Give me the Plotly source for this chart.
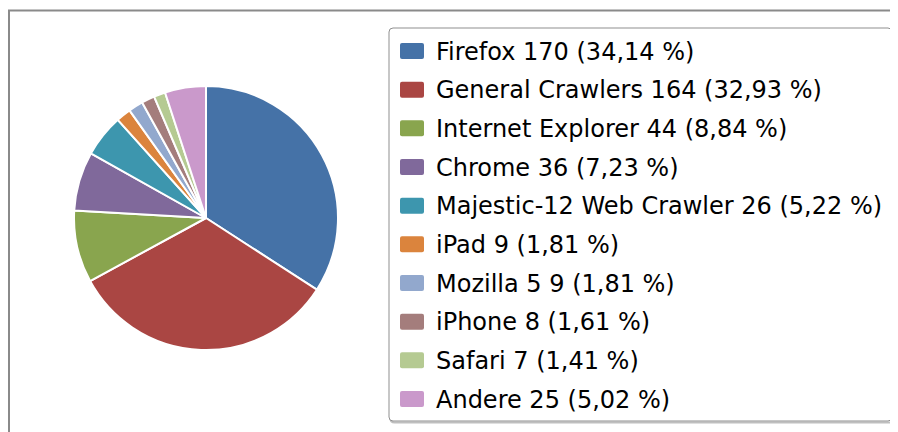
import plotly.graph_objects as go

# page offset of the plot inside the browser window (body margin)
OX, OY = 8, 8
W, H = 898 - OX, 432 - OY

labels = ["Firefox", "General Crawlers", "Internet Explorer", "Chrome",
          "Majestic-12 Web Crawler", "iPad", "Mozilla 5", "iPhone", "Safari", "Andere"]
values = [170, 164, 44, 36, 26, 9, 9, 8, 7, 25]
colors = ["#4572A7", "#AA4643", "#89A54E", "#80699B", "#3D96AE",
          "#DB843D", "#92A8CD", "#A47D7C", "#B5CA92", "#CA99CB"]

total = sum(values)


def px(x):
    return (x - OX) / W


def py(y):
    return 1 - (y - OY) / H


fig = go.Figure()

cx, cy, r = 206, 218, 132
fig.add_trace(go.Pie(
    labels=labels, values=values, sort=False, direction="clockwise", rotation=0,
    marker=dict(colors=colors, line=dict(color="#ffffff", width=2)),
    textinfo="none", hoverinfo="label+value+percent", showlegend=False,
    domain=dict(x=[px(cx - r), px(cx + r)], y=[py(cy + r), py(cy - r)]),
))

shapes = []
# outer frame (top and left edges visible)
shapes.append(dict(type="line", xref="paper", yref="paper", x0=px(8), x1=px(898 + 5),
                   y0=py(10.5), y1=py(10.5), line=dict(color="#8a8a8a", width=2)))
shapes.append(dict(type="line", xref="paper", yref="paper", x0=px(9), x1=px(9),
                   y0=py(10), y1=py(432 + 5), line=dict(color="#8a8a8a", width=2)))


def rounded(x0, y0, x1, y1, rad):
    return (f"M{px(x0 + rad)},{py(y0)} L{px(x1 - rad)},{py(y0)} "
            f"Q{px(x1)},{py(y0)} {px(x1)},{py(y0 + rad)} "
            f"L{px(x1)},{py(y1 - rad)} Q{px(x1)},{py(y1)} {px(x1 - rad)},{py(y1)} "
            f"L{px(x0 + rad)},{py(y1)} Q{px(x0)},{py(y1)} {px(x0)},{py(y1 - rad)} "
            f"L{px(x0)},{py(y0 + rad)} Q{px(x0)},{py(y0)} {px(x0 + rad)},{py(y0)} Z")


# legend box shadow + box
shapes.append(dict(type="path", xref="paper", yref="paper", path=rounded(390.5, 29.5, 893.5, 422.5, 4),
                   line=dict(color="rgba(0,0,0,0.25)", width=2), fillcolor="rgba(0,0,0,0)"))
shapes.append(dict(type="path", xref="paper", yref="paper", path=rounded(389, 28, 892, 421, 4),
                   line=dict(color="#8f8f8f", width=1), fillcolor="#ffffff"))

annotations = []
row0, step = 51, 38.67
for i, (lab, val, col) in enumerate(zip(labels, values, colors)):
    yc = row0 + i * step
    shapes.append(dict(type="path", xref="paper", yref="paper",
                       path=rounded(400, yc - 8, 424, yc + 8, 2),
                       line=dict(width=0), fillcolor=col))
    pct = f"{val / total * 100:.2f}".replace(".", ",")
    annotations.append(dict(
        xref="paper", yref="paper", x=px(434), y=py(yc + 0.5), xanchor="left", yanchor="middle",
        text=f"{lab} {val} ({pct} %)", showarrow=False,
        font=dict(family="DejaVu Sans", size=24, color="#000000"),
    ))

fig.update_layout(
    width=W, height=H, margin=dict(l=0, r=0, t=0, b=0),
    paper_bgcolor="#ffffff", plot_bgcolor="#ffffff",
    shapes=shapes, annotations=annotations, showlegend=False,
)

fig.write_html("out.html")
